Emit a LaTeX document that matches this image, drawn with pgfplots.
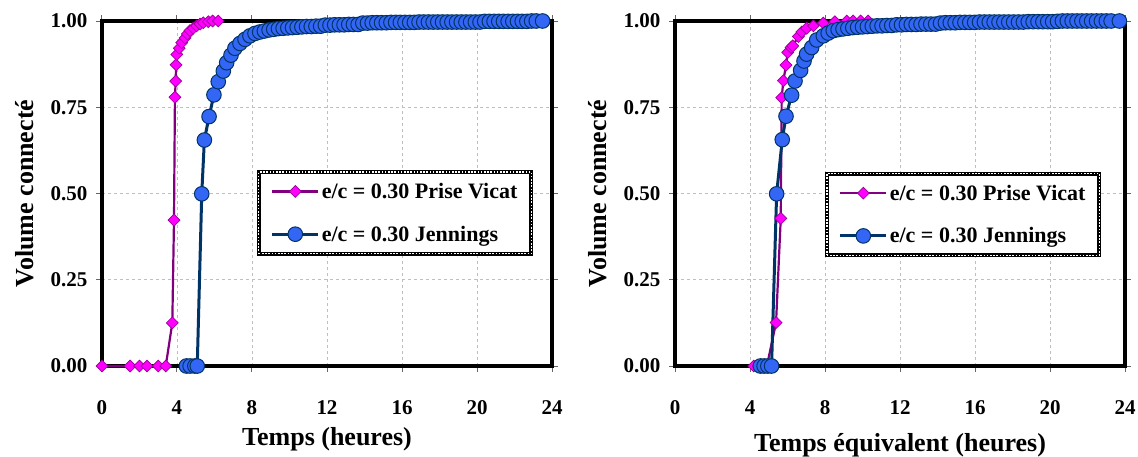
\documentclass[border=0pt]{standalone}
\usepackage{fontspec}
\setmainfont{Liberation Serif}
\usepackage{pgfplots}
\pgfplotsset{compat=1.18}
\definecolor{pinkfill}{HTML}{FF00FF}
\definecolor{pinkline}{HTML}{800080}
\definecolor{bluefill}{HTML}{3366F5}
\definecolor{blueline}{HTML}{003366}
\makeatletter
\tikzset{nopost/.code={\let\tikz@postactions\pgfutil@empty}}
\makeatother
\tikzset{axframe/.style={draw=black, line width=3.3pt}}

\pgfplotstableread{
x y
0 0
1.5 0
2.0 0
2.4 0
3.0 0
3.4 0
3.75 0.125
3.84 0.423
3.89 0.779
3.93 0.826
3.95 0.873
3.99 0.903
4.12 0.921
4.25 0.937
4.43 0.951
4.55 0.962
4.69 0.972
4.87 0.979
5.05 0.986
5.23 0.991
5.40 0.995
5.67 0.998
5.9 1.0
6.2 1.0
}\leftpink

\pgfplotstableread{
x y
4.5 0
4.7 0
4.95 0
5.08 0
5.32 0.499
5.46 0.655
5.71 0.723
5.97 0.786
6.2 0.824
6.47 0.855
6.65 0.879
6.88 0.901
7.09 0.921
7.36 0.935
7.63 0.947
7.89 0.957
8.16 0.964
8.41 0.968
8.66 0.971
8.91 0.974
9.16 0.976
9.41 0.978
9.66 0.979
9.91 0.980
10.16 0.981
10.41 0.982
10.66 0.983
10.91 0.984
11.16 0.984
11.41 0.985
11.66 0.985
11.91 0.988
12.16 0.988
12.41 0.989
12.66 0.989
12.91 0.989
13.16 0.990
13.41 0.990
13.66 0.990
13.91 0.994
14.16 0.994
14.41 0.995
14.66 0.995
14.91 0.995
15.16 0.995
15.41 0.996
15.66 0.996
15.91 0.996
16.16 0.996
16.41 0.996
16.66 0.996
16.91 0.997
17.16 0.997
17.41 0.997
17.66 0.997
17.91 0.997
18.16 0.997
18.41 0.997
18.66 0.997
18.91 0.997
19.16 0.997
19.41 0.997
19.66 0.997
19.91 0.997
20.16 0.997
20.41 0.999
20.66 0.999
20.91 0.999
21.16 0.999
21.41 0.999
21.66 0.999
21.91 0.999
22.16 0.999
22.41 0.999
22.66 0.999
22.91 1.0
23.16 1.0
23.5 1.0
}\leftblue

\pgfplotstableread{
x y
4.2 0
4.45 0
4.7 0
4.9 0
5.39 0.126
5.64 0.428
5.69 0.778
5.78 0.827
5.92 0.872
6.01 0.909
6.19 0.923
6.28 0.928
6.58 0.955
6.76 0.968
7.02 0.979
7.38 0.986
7.91 0.994
8.53 0.998
9.16 1.0
9.5 1.0
9.9 1.0
10.3 1.0
}\rightpink

\pgfplotstableread{
x y
4.55 0
4.75 0
4.95 0
5.15 0
5.42 0.499
5.72 0.656
5.92 0.724
6.22 0.785
6.4 0.826
6.7 0.857
6.88 0.884
7.02 0.904
7.29 0.923
7.56 0.945
7.91 0.957
8.17 0.965
8.44 0.972
8.7 0.975
8.96 0.977
9.22 0.979
9.48 0.981
9.74 0.982
10.0 0.983
10.26 0.984
10.52 0.985
10.78 0.986
11.04 0.986
11.3 0.987
11.56 0.987
11.82 0.989
12.08 0.989
12.34 0.990
12.6 0.990
12.86 0.990
13.12 0.991
13.38 0.991
13.64 0.991
13.9 0.991
14.16 0.994
14.42 0.995
14.68 0.995
14.94 0.995
15.2 0.996
15.46 0.996
15.72 0.996
15.98 0.996
16.24 0.997
16.5 0.997
16.76 0.997
17.02 0.997
17.28 0.997
17.54 0.997
17.8 0.997
18.06 0.997
18.32 0.997
18.58 0.997
18.84 0.998
19.1 0.998
19.36 0.998
19.62 0.998
19.88 0.998
20.14 0.998
20.4 0.999
20.66 1.0
20.92 1.0
21.18 1.0
21.44 1.0
21.7 1.0
21.96 1.0
22.22 1.0
22.48 1.0
22.74 1.0
23.0 1.0
23.26 1.0
23.7 1.0
}\rightblue

\pgfplotsset{
  mystyle/.style={
    scale only axis, width=450pt, height=345pt,
    xmin=0, xmax=24, ymin=0, ymax=1,
    xtick={0,4,...,24}, ytick={0,0.25,0.5,0.75,1},
    axis line style={line width=2.6pt, black},
    tick align=outside, major tick length=6pt,
    tick style={black!60, line width=1pt},
    xmajorgrids, ymajorgrids,
    grid style={dashed, black!25, line width=0.9pt},
    /pgf/number format/assume math mode=true,
    y tick label style={/pgf/number format/fixed, /pgf/number format/fixed zerofill, /pgf/number format/precision=2, xshift=-5pt},
    ticklabel style={font=\fontsize{21}{21}\selectfont\bfseries},
    x tick label style={yshift=-25pt},
    label style={font=\fontsize{26}{26}\selectfont\bfseries},
    ylabel style={at={(axis description cs:-0.171,0.5)}, anchor=center},
    legend cell align=left,
    legend style={font=\fontsize{22}{22}\selectfont\bfseries, fill=white,
      draw=black, line width=4pt,
      postaction={draw=white, line width=1.4pt, dash pattern=on 1.6pt off 1.6pt},
      row sep=22pt, inner xsep=12pt, inner ysep=9pt, anchor=north west},
    legend image code/.code={\draw[nopost, solid, mark repeat=2, mark phase=2] plot coordinates {(0pt,0pt) (23pt,0pt) (46pt,0pt)};},
    clip=false,
  },
  pinkstyle/.style={solid, pinkline, line width=2.2pt, mark=square*, mark size=4.2pt,
    mark options={solid, rotate=45, fill=pinkfill, draw=pinkline!80!pinkfill, line width=0.7pt}},
  bluestyle/.style={solid, blueline, line width=3pt, mark=*, mark size=7.3pt,
    mark options={solid, fill=bluefill, draw=blueline, line width=1pt}},
}

\begin{document}
\begin{tikzpicture}
\useasboundingbox (-102pt,-90pt) rectangle (1036pt,366pt);
\begin{axis}[mystyle, at={(0pt,0pt)}, anchor=south west,
  xlabel={Temps (heures)}, ylabel={Volume connecté},
  xlabel style={at={(axis description cs:0.5,-0.212)}, anchor=center},
  legend style={at={(rel axis cs:0.344,0.568)}}]
\draw[axframe] (rel axis cs:0,0) rectangle (rel axis cs:1,1);
\addplot[pinkstyle] table {\leftpink};
\addlegendentry{e/c = 0.30 Prise Vicat}
\addplot[bluestyle] table {\leftblue};
\addlegendentry{e/c = 0.30 Jennings}
\end{axis}
\begin{axis}[mystyle, at={(573pt,0pt)}, anchor=south west,
  xlabel={Temps équivalent (heures)}, ylabel={Volume connecté},
  xlabel style={at={(axis description cs:0.5,-0.23)}, anchor=center},
  legend style={at={(rel axis cs:0.333,0.563)}}]
\draw[axframe] (rel axis cs:0,0) rectangle (rel axis cs:1,1);
\addplot[pinkstyle] table {\rightpink};
\addlegendentry{e/c = 0.30 Prise Vicat}
\addplot[bluestyle] table {\rightblue};
\addlegendentry{e/c = 0.30 Jennings}
\end{axis}
\end{tikzpicture}
\end{document}
